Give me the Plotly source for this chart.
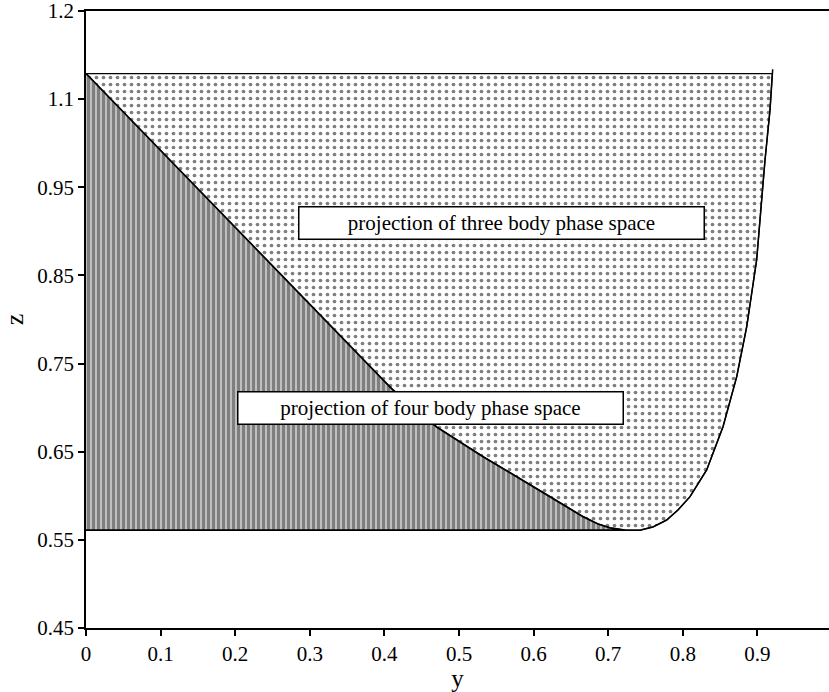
import plotly.graph_objects as go

# Boundary between four-body and three-body projections (from z top down to minimum)
diag_y = [0.0, 0.0814, 0.126, 0.1702, 0.2154, 0.260, 0.3043, 0.3673, 0.4115, 0.4701, 0.5322, 0.5773, 0.622, 0.6662, 0.6863, 0.7024, 0.7225]
diag_z = [1.079, 1.008, 0.969, 0.930, 0.890, 0.851, 0.8125, 0.7575, 0.720, 0.678, 0.6444, 0.6217, 0.599, 0.5763, 0.568, 0.5635, 0.561]

# Right boundary of the three-body projection (from minimum upward)
right_y = [0.7225, 0.7426, 0.760, 0.7784, 0.7935, 0.8097, 0.832, 0.8539, 0.8723, 0.8857, 0.899, 0.9102, 0.9169, 0.920, 0.9205]
right_z = [0.561, 0.561, 0.5646, 0.5725, 0.5839, 0.599, 0.6293, 0.6784, 0.7351, 0.7918, 0.8675, 0.981, 1.0377, 1.079, 1.0839]

z_top = 1.079
z_bottom = 0.561

x_tickvals = [0, 0.1, 0.2, 0.3, 0.4, 0.5, 0.6, 0.7, 0.8, 0.9]
x_ticktext = ["0", "0.1", "0.2", "0.3", "0.4", "0.5", "0.6", "0.7", "0.8", "0.9"]
z_tickvals = [0.45, 0.55, 0.65, 0.75, 0.85, 0.95, 1.05, 1.15]
z_ticktext = ["0.45", "0.55", "0.65", "0.75", "0.85", "0.95", "1.1", "1.2"]

labels = ["projection of three body phase space", "projection of four body phase space"]
label_pos_y = [0.557, 0.4618]
label_pos_z = [0.910, 0.700]
label_width = [404, 384]

FONT = "Liberation Serif, Times New Roman, serif"

fig = go.Figure()

# three-body region (dotted)
r_top = [i for i, z in enumerate(right_z) if z <= z_top + 1e-9]
three_x = [0.0] + [right_y[i] for i in reversed(r_top)] + diag_y[::-1][1:]
three_z = [z_top] + [right_z[i] for i in reversed(r_top)] + diag_z[::-1][1:]
fig.add_trace(go.Scatter(
    x=three_x, y=three_z, mode="lines", fill="toself",
    line=dict(color="black", width=1.3),
    fillcolor="white",
    fillpattern=dict(shape=".", size=7, solidity=0.22, fgcolor="black", bgcolor="white"),
    hoverinfo="skip", showlegend=False))

# four-body region (vertical stripes)
four_x = diag_y + [0.0]
four_z = diag_z + [z_bottom]
fig.add_trace(go.Scatter(
    x=four_x, y=four_z, mode="lines", fill="toself",
    line=dict(color="black", width=1.8),
    fillcolor="white",
    fillpattern=dict(shape="|", size=5, solidity=0.8, fgcolor="black", bgcolor="white"),
    hoverinfo="skip", showlegend=False))

# full right curve line
fig.add_trace(go.Scatter(x=right_y, y=right_z, mode="lines",
                         line=dict(color="black", width=1.5),
                         hoverinfo="skip", showlegend=False))

for t, ax, az, w in zip(labels, label_pos_y, label_pos_z, label_width):
    fig.add_annotation(x=ax, y=az, xref="x", yref="y", text=t, showarrow=False,
                       font=dict(family=FONT, size=21, color="black"),
                       bgcolor="white", bordercolor="black", borderwidth=1.5,
                       borderpad=0, width=w, height=31)

fig.update_layout(
    width=829, height=692,
    margin=dict(l=86, r=0, t=11, b=64),
    paper_bgcolor="white", plot_bgcolor="white",
    font=dict(family=FONT, size=21, color="black"),
    showlegend=False,
)
fig.update_xaxes(range=[0, 743 / 746], tickvals=x_tickvals, ticktext=x_ticktext,
                 automargin=False, ticklabeloverflow="allow",
                 showgrid=False, zeroline=False, showline=True, linecolor="black", linewidth=1.5,
                 mirror=True, ticks="outside", ticklen=6, tickwidth=1.5, tickcolor="black",
                 tickfont=dict(family=FONT, size=21),
                 title=dict(text="y", font=dict(family=FONT, size=25), standoff=6))
fig.update_yaxes(range=[0.45 - 1e-6, 1.15 + 1e-6], tickvals=z_tickvals, ticktext=z_ticktext,
                 automargin=False, ticklabeloverflow="allow",
                 showgrid=False, zeroline=False, showline=True, linecolor="black", linewidth=1.5,
                 ticks="outside", ticklen=6, tickwidth=1.5, tickcolor="black",
                 tickfont=dict(family=FONT, size=21),
                 title=dict(text="z", font=dict(family=FONT, size=26), standoff=10))

fig.write_html("out.html", config={"displayModeBar": False},
               post_script="document.body.style.margin='0';document.body.style.overflow='hidden';")
